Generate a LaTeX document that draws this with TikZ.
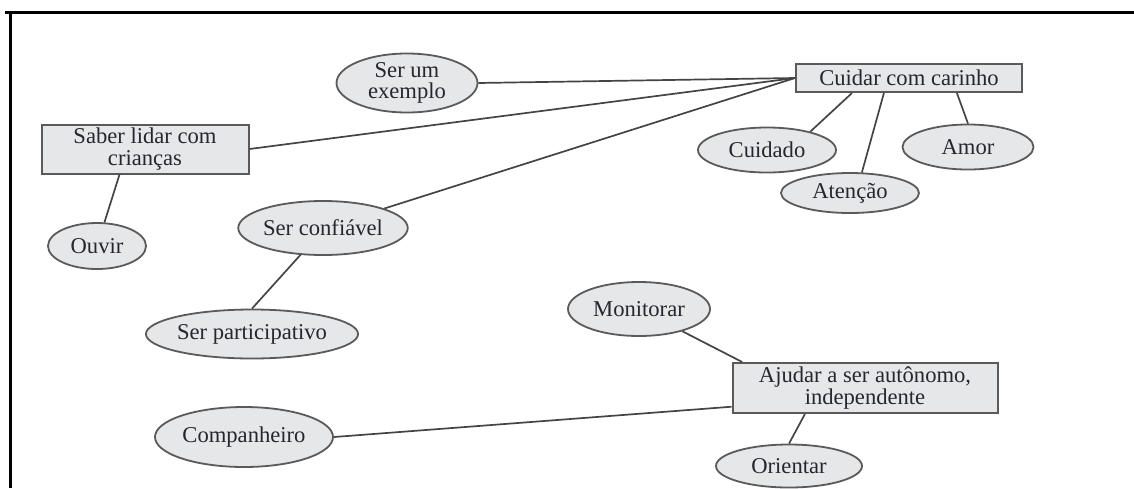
\documentclass[tikz,border=0pt]{standalone}
\usepackage{fontspec}
\setmainfont{Liberation Serif}
\usepackage{tikz}
\usetikzlibrary{shapes.geometric,calc}

\definecolor{preenchimento}{HTML}{E6E7E9}
\definecolor{contorno}{HTML}{5A5A5A}
\definecolor{linha}{HTML}{444444}
\definecolor{texto}{HTML}{26262E}

\tikzset{
  conceito/.style={ellipse,draw=contorno,fill=preenchimento,line width=0.9pt,
    inner sep=0pt,text=texto,align=center,font=\fontsize{11.3pt}{10.8pt}\selectfont},
  tema/.style={rectangle,draw=contorno,fill=preenchimento,line width=1pt,
    inner sep=0pt,text=texto,align=center,font=\fontsize{11.3pt}{10.8pt}\selectfont},
  ligacao/.style={draw=linha,line width=0.85pt}
}

\begin{document}
\begin{tikzpicture}[x=0.5pt,y=-0.5pt]
  \useasboundingbox (0,0) rectangle (1134,488);
  % moldura
  \draw[line width=1.5pt] (5,12) -- (1134,12);
  \draw[line width=1.5pt] (10,12) -- (10,488);
  % temas
  \node[tema,minimum width=103.5pt,minimum height=24.5pt] (saber) at (145,149) {Saber lidar com\\crianças};
  \node[tema,minimum width=113pt,minimum height=14pt] (cuidar) at (909,78) {Cuidar com carinho};
  \node[tema,minimum width=132.5pt,minimum height=25pt] (ajudar) at (865,388) {Ajudar a ser autônomo,\\independente};
  % conceitos
  \node[conceito,minimum width=70.5pt,minimum height=29.5pt] (exemplo) at (407,83) {Ser um\\exemplo};
  \node[conceito,minimum width=49pt,minimum height=23pt] (ouvir) at (97,246) {Ouvir};
  \node[conceito,minimum width=84pt,minimum height=27pt] (confiavel) at (323,228) {Ser confiável};
  \node[conceito,minimum width=96.5pt,minimum height=24.5pt] (participativo) at (252,334) {Ser participativo};
  \node[conceito,minimum width=69pt,minimum height=22.5pt] (cuidado) at (767,150) {Cuidado};
  \node[conceito,minimum width=69pt,minimum height=20pt] (atencao) at (850,193) {Atenção};
  \node[conceito,minimum width=65.5pt,minimum height=22.5pt] (amor) at (968,147) {Amor};
  \node[conceito,minimum width=71pt,minimum height=27pt] (monitorar) at (639,309) {Monitorar};
  \node[conceito,minimum width=89pt,minimum height=30pt] (companheiro) at (244,437) {Companheiro};
  \node[conceito,minimum width=73pt,minimum height=21.5pt] (orientar) at (789,466) {Orientar};
  % ligacoes
  \draw[ligacao] (exemplo.east) -- (cuidar.west);
  \draw[ligacao] (saber.east) -- (cuidar.west);
  \draw[ligacao] (confiavel) -- (cuidar.west);
  \draw[ligacao] (saber.-135) -- (ouvir);
  \draw[ligacao] (confiavel.-130) -- (participativo.north);
  \draw[ligacao] ($(cuidar.south west)!0.25!(cuidar.south east)$) -- (cuidado.23);
  \draw[ligacao] ($(cuidar.south west)!0.39!(cuidar.south east)$) -- (atencao.60);
  \draw[ligacao] ($(cuidar.south west)!0.71!(cuidar.south east)$) -- (amor.north);
  \draw[ligacao] (monitorar) -- ($(ajudar.north west)!0.04!(ajudar.north east)$);
  \draw[ligacao] (companheiro.east) -- ($(ajudar.west)!0.72!(ajudar.south west)$);
  \draw[ligacao] ($(ajudar.south west)!0.275!(ajudar.south east)$) -- (orientar.north);
\end{tikzpicture}
\end{document}
